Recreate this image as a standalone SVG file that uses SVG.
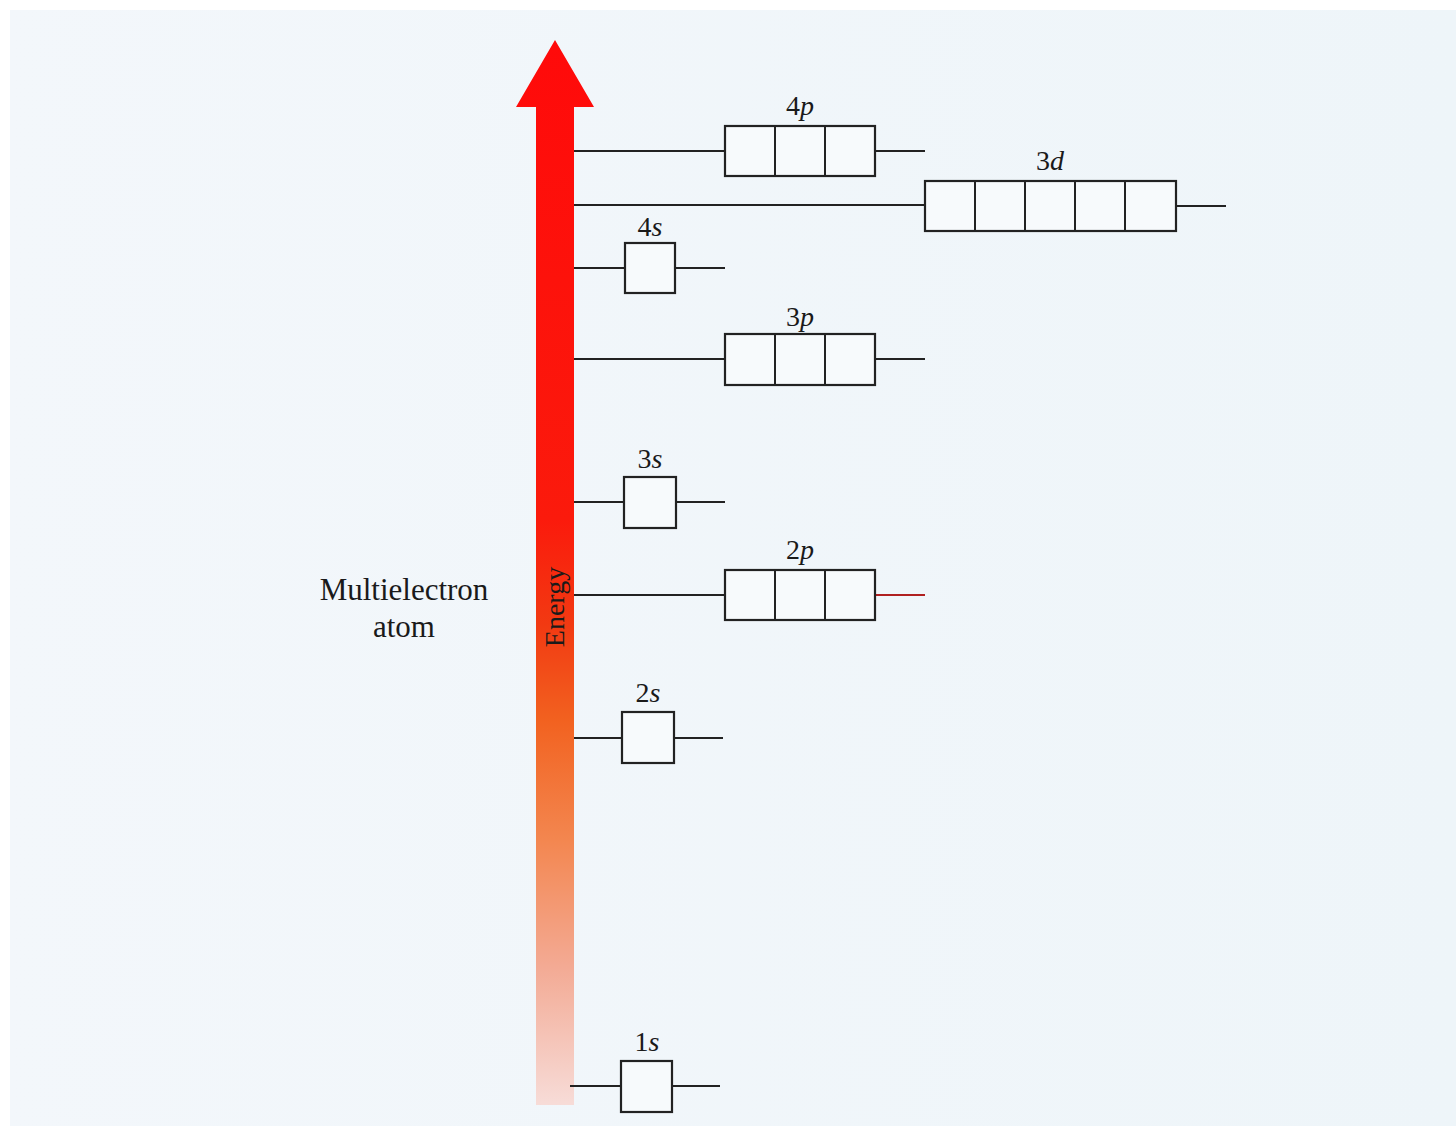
<svg xmlns="http://www.w3.org/2000/svg" width="1456" height="1126" viewBox="0 0 1456 1126">
<defs>
<linearGradient id="energyGrad" gradientUnits="userSpaceOnUse" x1="0" y1="40" x2="0" y2="1105">
<stop offset="0" stop-color="#ff0a0a"/>
<stop offset="0.45" stop-color="#fb1a0c"/>
<stop offset="0.55" stop-color="#f23a12"/>
<stop offset="0.64" stop-color="#f26220"/>
<stop offset="0.75" stop-color="#f3864f"/>
<stop offset="0.87" stop-color="#f3aa94"/>
<stop offset="1" stop-color="#f7dcd8"/>
</linearGradient>
<linearGradient id="bgGrad" x1="0" y1="0" x2="1" y2="0">
<stop offset="0" stop-color="#f3f7fb"/>
<stop offset="1" stop-color="#eef5f9"/>
</linearGradient>
</defs>
<style>
.ln{stroke:#222;stroke-width:2;fill:none}
.box{stroke:#222;stroke-width:2.2;fill:#f7fafc}
text{font-family:"Liberation Serif","Times New Roman",Times,"DejaVu Serif",serif;fill:#1a1a1a;text-anchor:middle}
.lbl{font-size:28px}
.it{font-style:italic}
.cap{font-size:31px}
</style>
<rect x="0" y="0" width="1456" height="1126" fill="url(#bgGrad)"/>
<rect x="0" y="0" width="1456" height="10" fill="#ffffff"/>
<rect x="0" y="0" width="10" height="1126" fill="#ffffff"/>

<g id="energy-axis">
<polygon points="555,40 594,107 574,107 574,1105 536,1105 536,107 516,107" fill="url(#energyGrad)"/>
<text class="lbl" font-family="Liberation Serif, serif" transform="translate(564,607) rotate(-90)">Energy</text>
</g>

<g id="atom-label">
<text class="cap" font-family="Liberation Serif, serif" x="404" y="600">Multielectron</text>
<text class="cap" font-family="Liberation Serif, serif" x="404" y="637">atom</text>
</g>

<g id="connectors">
<line class="ln" x1="574" y1="151" x2="725" y2="151"/>
<line class="ln" x1="875" y1="151" x2="925" y2="151"/>
<line class="ln" x1="574" y1="205" x2="925" y2="205"/>
<line class="ln" x1="1176" y1="206" x2="1226" y2="206"/>
<line class="ln" x1="574" y1="268" x2="625" y2="268"/>
<line class="ln" x1="675" y1="268" x2="725" y2="268"/>
<line class="ln" x1="574" y1="359" x2="725" y2="359"/>
<line class="ln" x1="875" y1="359" x2="925" y2="359"/>
<line class="ln" x1="574" y1="502" x2="624" y2="502"/>
<line class="ln" x1="676" y1="502" x2="725" y2="502"/>
<line class="ln" x1="574" y1="595" x2="725" y2="595"/>
<line class="ln" x1="875" y1="595" x2="925" y2="595" style="stroke:#b02020"/>
<line class="ln" x1="574" y1="738" x2="622" y2="738"/>
<line class="ln" x1="674" y1="738" x2="723" y2="738"/>
<line class="ln" x1="570" y1="1086" x2="621" y2="1086"/>
<line class="ln" x1="672" y1="1086" x2="720" y2="1086"/>
</g>

<g id="orbital-4p">
<rect class="box" x="725" y="126" width="150" height="50"/>
<line class="ln" x1="775" y1="126" x2="775" y2="176"/>
<line class="ln" x1="825" y1="126" x2="825" y2="176"/>
<text class="lbl" font-family="Liberation Serif, serif" x="800" y="115">4<tspan class="it">p</tspan></text>
</g>

<g id="orbital-3d">
<rect class="box" x="925" y="181" width="251" height="50"/>
<line class="ln" x1="975" y1="181" x2="975" y2="231"/>
<line class="ln" x1="1025" y1="181" x2="1025" y2="231"/>
<line class="ln" x1="1075" y1="181" x2="1075" y2="231"/>
<line class="ln" x1="1125" y1="181" x2="1125" y2="231"/>
<text class="lbl" font-family="Liberation Serif, serif" x="1050" y="170">3<tspan class="it">d</tspan></text>
</g>

<g id="orbital-4s">
<rect class="box" x="625" y="243" width="50" height="50"/>
<text class="lbl" font-family="Liberation Serif, serif" x="650" y="236">4<tspan class="it">s</tspan></text>
</g>

<g id="orbital-3p">
<rect class="box" x="725" y="334" width="150" height="51"/>
<line class="ln" x1="775" y1="334" x2="775" y2="385"/>
<line class="ln" x1="825" y1="334" x2="825" y2="385"/>
<text class="lbl" font-family="Liberation Serif, serif" x="800" y="326">3<tspan class="it">p</tspan></text>
</g>

<g id="orbital-3s">
<rect class="box" x="624" y="477" width="52" height="51"/>
<text class="lbl" font-family="Liberation Serif, serif" x="650" y="468">3<tspan class="it">s</tspan></text>
</g>

<g id="orbital-2p">
<rect class="box" x="725" y="570" width="150" height="50"/>
<line class="ln" x1="775" y1="570" x2="775" y2="620"/>
<line class="ln" x1="825" y1="570" x2="825" y2="620"/>
<text class="lbl" font-family="Liberation Serif, serif" x="800" y="559">2<tspan class="it">p</tspan></text>
</g>

<g id="orbital-2s">
<rect class="box" x="622" y="712" width="52" height="51"/>
<text class="lbl" font-family="Liberation Serif, serif" x="648" y="702">2<tspan class="it">s</tspan></text>
</g>

<g id="orbital-1s">
<rect class="box" x="621" y="1061" width="51" height="51"/>
<text class="lbl" font-family="Liberation Serif, serif" x="647" y="1051">1<tspan class="it">s</tspan></text>
</g>
</svg>
